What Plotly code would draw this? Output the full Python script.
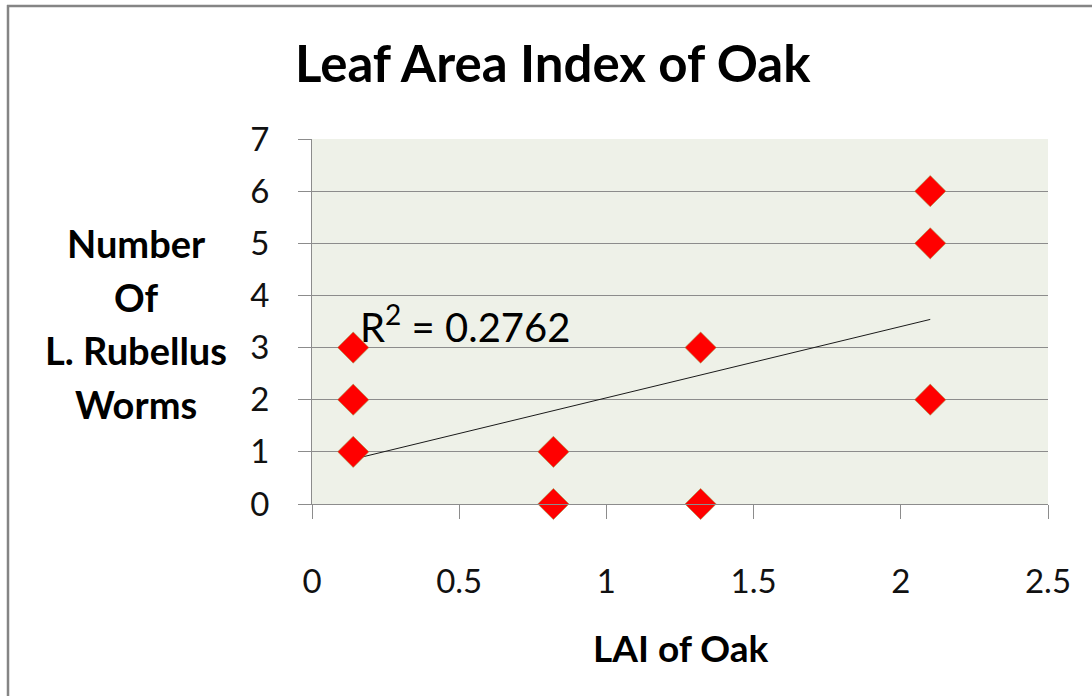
import plotly.graph_objects as go

# Data
lai_oak = [0.14, 0.14, 0.14, 0.82, 0.82, 1.32, 1.32, 2.10, 2.10, 2.10]
worms = [1, 2, 3, 1, 0, 3, 0, 6, 5, 2]
trend_x = [0.14, 2.10]
trend_y = [0.86, 3.54]
r_squared = "0.2762"
x_ticks = [0, 0.5, 1, 1.5, 2, 2.5]
y_ticks = [0, 1, 2, 3, 4, 5, 6, 7]
y_title_lines = ["Number", "Of", "L. Rubellus", "Worms"]

FONT = "Lato"
W, H = 1092, 696
L, R, T, B = 312, 44, 139, 192
pw, ph = W - L - R, H - T - B

def px(xpix):
    return (xpix - L) / pw

def py(ypix):
    return (H - B - ypix) / ph

fig = go.Figure()
fig.add_trace(go.Scatter(x=trend_x, y=trend_y, mode="lines",
                         line=dict(color="#1a1a1a", width=1), showlegend=False,
                         hoverinfo="skip"))
fig.add_trace(go.Scatter(x=lai_oak, y=worms, mode="markers", cliponaxis=False,
                         marker=dict(symbol="diamond", size=24, color="#FF0000",
                                     line=dict(color="#9a9a50", width=0.6)),
                         showlegend=False))

annotations = [
    dict(text="<b>Leaf Area Index of Oak</b>", x=px(553), y=py(63),
         font=dict(family=FONT, size=51, color="#000000")),
    dict(text="<b>LAI of Oak</b>", x=px(680), y=py(647),
         font=dict(family=FONT, size=37, color="#000000")),
    dict(text="R<sup>2</sup> = " + r_squared, x=px(358), y=py(324), xanchor="left",
         font=dict(family=FONT, size=40, color="#000000")),
]
for i, line in enumerate(y_title_lines):
    annotations.append(dict(text="<b>" + line + "</b>", x=px(136), y=py(243 + i * 53.7),
                            font=dict(family=FONT, size=38, color="#000000")))
for a in annotations:
    a.setdefault("xanchor", "center")
    a.update(yanchor="middle", xref="paper", yref="paper", showarrow=False)

shapes = [
    dict(type="line", xref="paper", yref="paper", x0=px(8), x1=px(8), y0=py(5), y1=py(720),
         line=dict(color="#858585", width=2.5)),
    dict(type="line", xref="paper", yref="paper", x0=px(7), x1=px(1120), y0=py(6), y1=py(6),
         line=dict(color="#858585", width=2.5)),
]

fig.update_layout(
    width=W, height=H,
    margin=dict(l=L, r=R, t=T, b=B),
    paper_bgcolor="#FFFFFF",
    plot_bgcolor="#EEF1E8",
    annotations=annotations,
    shapes=shapes,
    xaxis=dict(range=[0, 2.5], tickvals=x_ticks, ticktext=[f"{v:g}" for v in x_ticks],
               showgrid=False, zeroline=False, showline=True, linecolor="#8c8c8c", linewidth=1.2,
               ticks="outside", ticklen=14, tickcolor="#8c8c8c", tickwidth=1.2,
               tickfont=dict(family=FONT, size=33, color="#111111"), ticklabelstandoff=34),
    yaxis=dict(range=[0, 7], tickvals=y_ticks, showgrid=True, gridcolor="#8c8c8c", gridwidth=1.2,
               zeroline=False, showline=True, linecolor="#8c8c8c", linewidth=1.2,
               ticks="outside", ticklen=13, tickcolor="#8c8c8c", tickwidth=1.2,
               tickfont=dict(family=FONT, size=33, color="#111111"), ticklabelstandoff=22),
)

fig.write_html("out.html", config={"displayModeBar": False},
               post_script="document.body.style.margin='0';document.body.style.overflow='hidden';")
